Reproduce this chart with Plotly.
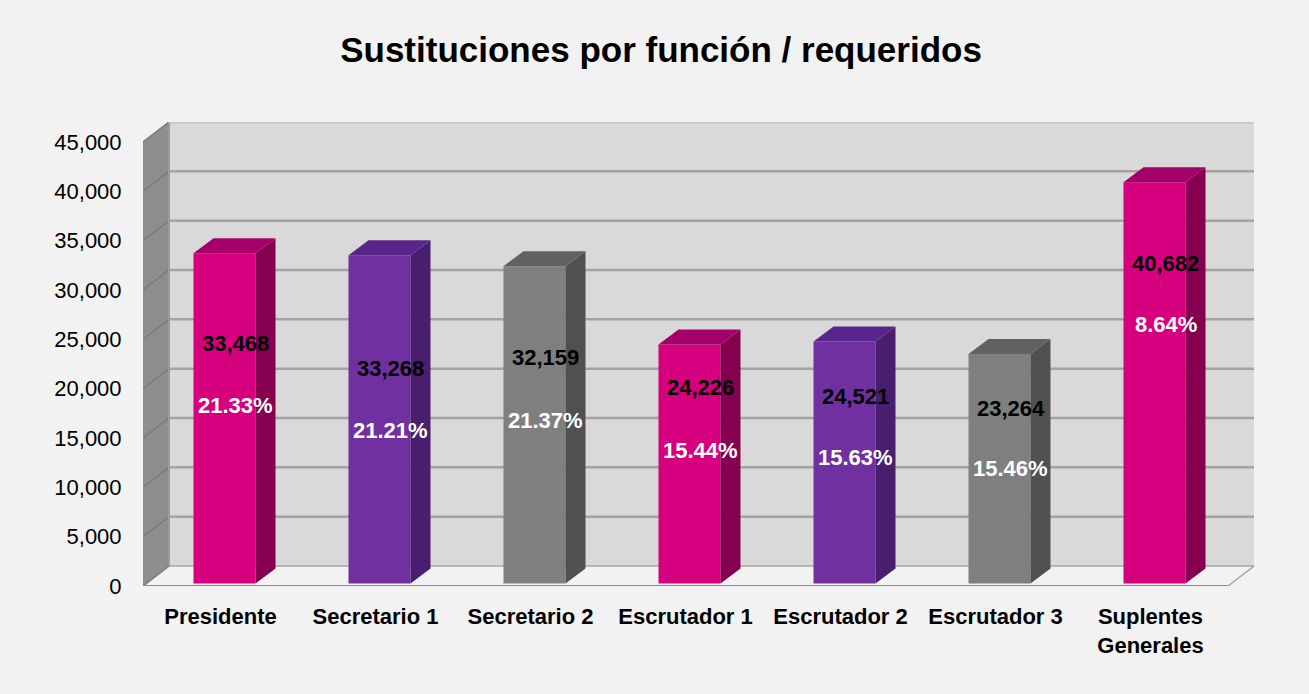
import plotly.graph_objects as go

# ---------------- data ----------------
categories = ["Presidente", "Secretario 1", "Secretario 2", "Escrutador 1",
              "Escrutador 2", "Escrutador 3", "Suplentes<br>Generales"]
values = [33468, 33268, 32159, 24226, 24521, 23264, 40682]
percent_labels = ["21.33%", "21.21%", "21.37%", "15.44%", "15.63%", "15.46%", "8.64%"]
y_ticks = [0, 5000, 10000, 15000, 20000, 25000, 30000, 35000, 40000, 45000]

# ---------------- label positions (y, in value units) ----------------
value_label_y = [24628, 22095, 23209, 20169, 19257, 18040, 32736]
pct_label_y = [18345, 15811, 16824, 13784, 13074, 11959, 26554]

# ---------------- styles ----------------
front_colors = ["#D6007F", "#7030A0", "#7F7F7F", "#D6007F", "#7030A0", "#7F7F7F", "#D6007F"]
top_colors = ["#A5006A", "#58268A", "#616161", "#A5006A", "#58268A", "#616161", "#A5006A"]
side_colors = ["#85004F", "#4A1E6E", "#505050", "#85004F", "#4A1E6E", "#505050", "#85004F"]

FONT = "Liberation Sans Narrow, Arial Narrow, Liberation Sans, Arial, sans-serif"
BG = "#F2F2F2"

W, H = 1309, 694
ML, MR, MT, MB = 143, 55, 122, 108
PX_PER_X = 155.0                 # pixels per category
YMAX = 45000
PX_PER_Y = 444.0 / YMAX          # pixels per value unit
plot_w = W - ML - MR
plot_h = H - MT - MB
x_range = [-0.5, -0.5 + plot_w / PX_PER_X]
y_range = [0, plot_h / PX_PER_Y]

# depth of the chart box (walls) and bars
DX = 26 / PX_PER_X
DY = 20 / PX_PER_Y
BDX = 20 / PX_PER_X
BDY = 15 / PX_PER_Y
BAR_W = 62 / PX_PER_X
BAR_OFF = 4 / PX_PER_X
BAR_BASE = 250
LBL_OFF = 11 / PX_PER_X

n = len(categories)
x0, x1 = -0.5, n - 0.5

fig = go.Figure()

shapes = []
# back wall
shapes.append(dict(type="rect", xref="x", yref="y", x0=x0 + DX, x1=x1 + DX, y0=DY, y1=YMAX + DY,
                   fillcolor="#D9D9D9", line=dict(width=0), layer="below"))
# left side wall
shapes.append(dict(type="path", xref="x", yref="y",
                   path=f"M {x0},0 L {x0+DX},{DY} L {x0+DX},{YMAX+DY} L {x0},{YMAX} Z",
                   fillcolor="#8E8E8E", line=dict(width=0), layer="below"))
# floor
shapes.append(dict(type="path", xref="x", yref="y",
                   path=f"M {x0},0 L {x1},0 L {x1+DX},{DY} L {x0+DX},{DY} Z",
                   fillcolor="#F2F2F2", line=dict(color="#A6A6A6", width=1.5), layer="below"))
# gridlines
for v in y_ticks:
    if v > 0:
        shapes.append(dict(type="line", xref="x", yref="y", x0=x0 + DX, x1=x1 + DX, y0=v + DY, y1=v + DY,
                           line=dict(color="#A3A3A3", width=2.5), layer="below"))
    shapes.append(dict(type="line", xref="x", yref="y", x0=x0, x1=x0 + DX, y0=v, y1=v + DY,
                       line=dict(color="#7A7A7A", width=1.5), layer="below"))
# wall edges
shapes.append(dict(type="line", xref="x", yref="y", x0=x0 + DX, x1=x0 + DX, y0=DY, y1=YMAX + DY,
                   line=dict(color="#9A9A9A", width=2), layer="below"))
shapes.append(dict(type="line", xref="x", yref="y", x0=x0 + DX, x1=x1 + DX, y0=YMAX + DY, y1=YMAX + DY,
                   line=dict(color="#C8C8C8", width=2), layer="below"))
shapes.append(dict(type="line", xref="x", yref="y", x0=x0, x1=x1, y0=0, y1=0,
                   line=dict(color="#8C8C8C", width=2), layer="below"))

# front faces
xs = [i + BAR_OFF for i in range(n)]
fig.add_trace(go.Bar(x=xs, y=values, base=[BAR_BASE] * n, width=BAR_W,
                     marker=dict(color=front_colors, line=dict(width=0)),
                     hoverinfo="skip", showlegend=False))

# top and side faces
for i, v in enumerate(values):
    xl = xs[i] - BAR_W / 2
    xr = xs[i] + BAR_W / 2
    yb = BAR_BASE
    yt = BAR_BASE + v
    fig.add_trace(go.Scatter(
        x=[xr, xr + BDX, xr + BDX, xr, xr], y=[yb, yb + BDY, yt + BDY, yt, yb],
        fill="toself", fillcolor=side_colors[i], mode="lines", line=dict(width=0),
        hoverinfo="skip", showlegend=False))
    fig.add_trace(go.Scatter(
        x=[xl, xl + BDX, xr + BDX, xr, xl], y=[yt, yt + BDY, yt + BDY, yt, yt],
        fill="toself", fillcolor=top_colors[i], mode="lines", line=dict(width=0),
        hoverinfo="skip", showlegend=False))

annotations = []
for i, v in enumerate(values):
    annotations.append(dict(x=xs[i] + LBL_OFF, y=value_label_y[i], xref="x", yref="y",
                            text=f"<b>{v:,}</b>", showarrow=False,
                            font=dict(family=FONT, size=22, color="#000000")))
    annotations.append(dict(x=xs[i] + LBL_OFF, y=pct_label_y[i], xref="x", yref="y",
                            text=f"<b>{percent_labels[i]}</b>", showarrow=False,
                            font=dict(family=FONT, size=22, color="#FFFFFF")))

fig.update_layout(
    width=W, height=H, autosize=False,
    margin=dict(l=ML, r=MR, t=MT, b=MB, pad=0),
    paper_bgcolor=BG, plot_bgcolor=BG,
    title=dict(text="<b>Sustituciones por función / requeridos</b>", x=0.505, xref="container",
               y=1 - 50 / H, yref="container", xanchor="center", yanchor="middle",
               font=dict(family=FONT, size=35, color="#000000")),
    shapes=shapes, annotations=annotations,
    xaxis=dict(range=x_range, tickvals=list(range(n)), ticktext=[f"<b>{c}</b>" for c in categories],
               showgrid=False, zeroline=False, showline=False, ticks="outside", ticklen=11,
               tickcolor="rgba(0,0,0,0)", tickfont=dict(family=FONT, size=22, color="#000000"),
               fixedrange=True),
    yaxis=dict(range=y_range, tickvals=y_ticks, ticktext=[f"{t:,}" for t in y_ticks],
               showgrid=False, zeroline=False, showline=False, ticks="outside", ticklen=16,
               tickcolor="rgba(0,0,0,0)", tickfont=dict(family=FONT, size=22, color="#000000"),
               fixedrange=True),
)

fig.write_html("out.html", config={"displayModeBar": False},
               post_script="document.body.style.margin='0';document.body.style.background='#F2F2F2';")
